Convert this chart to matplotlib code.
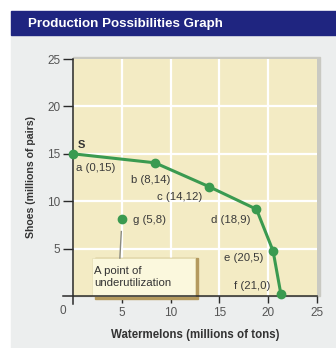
import matplotlib.pyplot as plt
from matplotlib.patches import Rectangle

plt.rcParams['font.family'] = ['Liberation Sans', 'DejaVu Sans']

# curve points as they sit on the picture, and their printed labels
watermelons = [0, 8.4, 13.9, 18.8, 20.5, 21.3]
shoes = [15, 14.05, 11.55, 9.15, 4.75, 0.2]
point_labels = ['a (0,15)', 'b (8,14)', 'c (14,12)', 'd (18,9)', 'e (20,5)', 'f (21,0)']
label_pos = [(0.35, 13.5), (5.9, 12.25), (8.65, 10.45), (14.1, 8.0), (15.5, 4.0), (16.45, 1.05)]

inner_point = (5.05, 8.1)
inner_label = 'g (5,8)'
ticks = [5, 10, 15, 20, 25]

W, H = 336, 348
fig = plt.figure(figsize=(W / 100, H / 100), dpi=100, facecolor='white')


def px(x0, y0, x1, y1, **kw):
    # rectangle in pixel coords measured from the top-left corner
    r = Rectangle((x0 / W, 1 - y1 / H), (x1 - x0) / W, (y1 - y0) / H,
                  transform=fig.transFigure, **kw)
    fig.patches.append(r)


px(11, 35, 336, 348, color='#eceeee', zorder=0)
px(11, 11, 336, 35, color='#1f2580', zorder=0)
px(73, 56.5, 319.5, 296, color='#c9c9c2', zorder=0)
fig.text(28 / W, 1 - 23.5 / H, 'Production Possibilities Graph', color='white',
         fontsize=9.6, fontweight='bold', va='center', ha='left')

ax = fig.add_axes([73 / W, 52 / H, 244 / W, 237 / H])
ax.set_zorder(2)
ax.set_facecolor('#f3ebc4')
ax.set_xlim(0, 25)
ax.set_ylim(0, 25)

for t in ticks[:-1]:
    ax.axvline(t, color='white', lw=1.6, zorder=1)
    ax.axhline(t, color='white', lw=1.6, zorder=1)

for s in ['top', 'right']:
    ax.spines[s].set_visible(False)
ax.spines['left'].set_bounds(-0.8, 25)
ax.spines['bottom'].set_bounds(-1.0, 25)
for s in ['left', 'bottom']:
    ax.spines[s].set_color('#2a2a2a')
    ax.spines[s].set_linewidth(1.1)
    ax.spines[s].set_zorder(6)

ax.set_xticks(ticks)
ax.set_yticks(ticks)
ax.tick_params(axis='y', length=7, width=1, color='#2a2a2a', labelsize=8.5,
               labelcolor='#555555', pad=2)
ax.tick_params(axis='x', length=5, width=1, color='#2a2a2a', labelsize=8.5,
               labelcolor='#555555', pad=3)
ax.text(-1.0, -1.0, '0', ha='center', va='top', fontsize=8.5, color='#555555',
        clip_on=False)

ax.set_xlabel('Watermelons (millions of tons)', fontsize=8.3, fontweight='bold',
              color='#333333', labelpad=7)
ax.set_ylabel('Shoes (millions of pairs)', fontsize=7.6, fontweight='bold',
              color='#333333', labelpad=8)

# callout box with shadow
ax.add_patch(Rectangle((2.25, -0.35), 10.6, 4.35, color='#b49a5e', zorder=3,
                       clip_on=False))
ax.add_patch(Rectangle((1.95, 0), 10.6, 4.0, facecolor='#fbf8dd', edgecolor='#e8e1b8',
                       lw=0.6, zorder=4, clip_on=False))
ax.text(2.2, 3.2, 'A point of\nunderutilization', fontsize=8.2, color='#333333',
        va='top', ha='left', linespacing=1.25, zorder=5)
ax.plot([4.8, 4.95], [4.0, 6.8], color='#8a8a80', lw=1.0, zorder=4)

ax.plot(watermelons, shoes, color='#3a9a50', lw=2.2, marker='o', ms=6,
        zorder=7, clip_on=False)
ax.plot([inner_point[0]], [inner_point[1]], 'o', color='#3a9a50', ms=6, zorder=7)

ax.text(0.45, 15.6, 'S', fontsize=8, fontweight='bold', color='#333333')
for (lx, ly), lab in zip(label_pos, point_labels):
    ax.text(lx, ly, lab, fontsize=8.2, color='#3a3a3a', va='center', ha='left', zorder=6)
ax.text(6.1, inner_point[1] - 0.05, inner_label, fontsize=8.2, color='#3a3a3a',
        va='center', ha='left', zorder=6)

fig.savefig('out.png', dpi=100, facecolor=fig.get_facecolor())
